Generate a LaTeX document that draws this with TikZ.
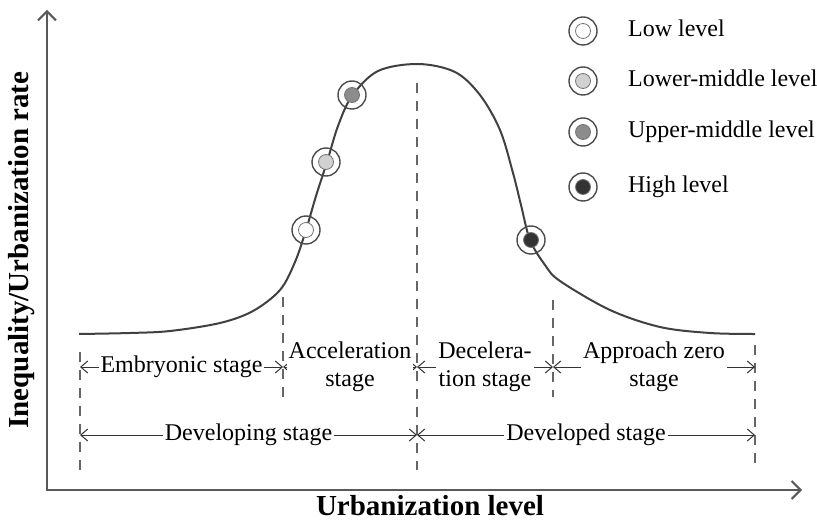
\documentclass[tikz,border=0pt]{standalone}
\usepackage{fontspec}
\setmainfont{Liberation Serif}
\usetikzlibrary{arrows.meta,positioning}

\begin{document}
\begin{tikzpicture}[x=0.5pt, y=-0.5pt, font=\fontsize{12}{14}\selectfont,
  axis/.style={draw=black!65, line width=1pt, {Straight Barb[length=4.5pt,width=9pt]}-{Straight Barb[length=4.5pt,width=9pt]}},
  bound/.style={draw=black!60, line width=0.7pt, dash pattern=on 5pt off 4pt},
  span/.style={draw=black!80, line width=0.5pt, {Straight Barb[length=3.5pt,width=6pt]}-{Straight Barb[length=3.5pt,width=6pt]}},
  stage/.style={fill=white, inner sep=1pt, align=center},
  ring/.style={circle, draw=black!70, line width=0.7pt, minimum size=14pt, inner sep=0pt},
  dot/.style={circle, draw=black!55, line width=0.4pt, minimum size=7.5pt, inner sep=0pt},
  lvltext/.style={right=14pt of #1, inner sep=1pt, text height=1.6ex, text depth=0.4ex},
  bigbold/.style={font=\fontsize{14.5}{17}\selectfont\bfseries}]
\useasboundingbox (0,0) rectangle (817,523);

\coordinate (ytop) at (47,10);
\coordinate (o) at (47,490);
\coordinate (xend) at (802,490);
\draw[axis] (ytop) -- (o) -- (xend);
\node[bigbold, rotate=90] (ylab) at (22,250) {Inequality/Urbanization rate};
\node[bigbold] (xlab) at (430,506) {Urbanization level};

\draw[black!75, line width=1pt] plot[smooth, tension=0.55] coordinates {(79,334) (130,333) (170,331) (220,323) (253,311) (280,290) (295,262) (306,230) (316,196) (327,162) (338,126) (352,96) (378,71) (418,64) (455,72) (480,95) (500,130) (513,173) (521,205) (530,240) (545,265) (560,281) (610,310) (660,327) (710,333) (755,334)};

\coordinate (d0t) at (80,352);  \coordinate (d0b) at (80,470);
\coordinate (d1t) at (283,297); \coordinate (d1b) at (283,397);
\coordinate (d2t) at (417,83);  \coordinate (d2b) at (417,470);
\coordinate (d3t) at (553,300); \coordinate (d3b) at (553,397);
\coordinate (d4t) at (755,345); \coordinate (d4b) at (755,470);
\draw[bound] (d0t) -- (d0b);
\draw[bound] (d1t) -- (d1b);
\draw[bound] (d2t) -- (d2b);
\draw[bound] (d3t) -- (d3b);
\draw[bound] (d4t) -- (d4b);

\coordinate (r0) at (80,367);  \coordinate (r1) at (283,367);
\coordinate (r2) at (417,367); \coordinate (r3) at (553,367);
\coordinate (r4) at (755,367);
\coordinate (s0) at (80,435);  \coordinate (s2) at (417,435);
\coordinate (s4) at (755,435);
\draw[span] (r0) -- node[stage] (emb) {Embryonic stage} (r1);
\draw[span] (r1) -- node[stage] (acc) {Acceleration\\stage} (r2);
\draw[span] (r2) -- node[stage] (dec) {Decelera-\\tion stage} (r3);
\draw[span] (r3) -- node[stage] (apz) {Approach zero\\stage} (r4);
\draw[span] (s0) -- node[stage] (dvg) {Developing stage} (s2);
\draw[span] (s2) -- node[stage] (dvd) {Developed stage} (s4);

\node[ring] (p1) at (306,230) {};
\node[dot, fill=white] at (p1) {};
\node[ring] (p2) at (326,162) {};
\node[dot, fill=black!18] at (p2) {};
\node[ring] (p3) at (352,95) {};
\node[dot, fill=black!45] at (p3) {};
\node[ring] (p4) at (531,240) {};
\node[dot, fill=black!80] at (p4) {};

\node[ring] (l1) at (583,31) {};
\node[dot, fill=white] at (l1) {};
\node[lvltext=l1] (t1) {Low level};
\node[ring] (l2) at (583,81) {};
\node[dot, fill=black!18] at (l2) {};
\node[lvltext=l2] (t2) {Lower-middle level};
\node[ring] (l3) at (583,132) {};
\node[dot, fill=black!45] at (l3) {};
\node[lvltext=l3] (t3) {Upper-middle level};
\node[ring] (l4) at (583,187) {};
\node[dot, fill=black!80] at (l4) {};
\node[lvltext=l4] (t4) {High level};
\end{tikzpicture}
\end{document}
